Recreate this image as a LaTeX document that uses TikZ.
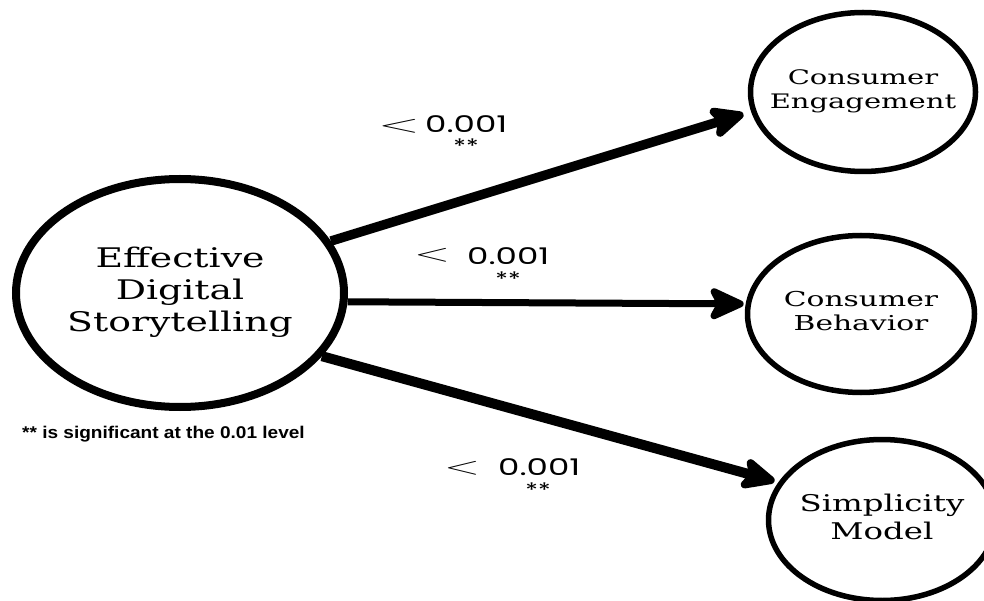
\documentclass[tikz,border=0pt]{standalone}
\usepackage{fontspec}
\usetikzlibrary{shapes.geometric,arrows.meta}
\newfontfamily\nodefont{DejaVu Serif}
\newfontfamily\labfont{Poppins}
\newfontfamily\notefont{Liberation Sans}
% horizontally widened text
\newcommand{\wide}[2]{\scalebox{#1}[1]{#2}}
% centred text that does not widen its ellipse, lifted by #1
\newcommand{\ctext}[2]{\makebox[0pt]{\raisebox{#1}{#2}}}
\begin{document}
\begin{tikzpicture}[x=1pt,y=-1pt,
  oval/.style={ellipse,draw,inner sep=0pt},
  conn/.style={-{Stealth[length=42pt,width=38pt,inset=10pt,round]}},
  pval/.style={anchor=base west,inner sep=0pt,font=\labfont\fontsize{23}{23}\selectfont},
  stars/.style={anchor=center,inner sep=0pt,font=\labfont\fontsize{20}{20}\selectfont},
  lt/.style={anchor=base west,inner sep=0pt,font=\fontsize{31}{31}\selectfont}]
\useasboundingbox (0,0) rectangle (984,601);
\fill[white] (0,0) rectangle (984,601);

% predictor and outcome ellipses
\node[oval,line width=8pt,minimum width=328pt,minimum height=228pt] (main) at (180,293)
  {\ctext{2pt}{\wide{1.4}{\nodefont\fontsize{27}{32}\selectfont
   \begin{tabular}{@{}c@{}}Effective\\Digital\\Storytelling\end{tabular}}}};
\node[oval,line width=5.5pt,minimum width=225pt,minimum height=159pt] (ce) at (863,92)
  {\ctext{6pt}{\wide{1.45}{\nodefont\fontsize{20}{24}\selectfont
   \begin{tabular}{@{}c@{}}Consumer\\Engagement\end{tabular}}}};
\node[oval,line width=5.5pt,minimum width=227pt,minimum height=157pt] (cb) at (861,314)
  {\ctext{4pt}{\wide{1.45}{\nodefont\fontsize{20.5}{24}\selectfont
   \begin{tabular}{@{}c@{}}Consumer\\Behavior\end{tabular}}}};
\node[oval,line width=5.5pt,minimum width=227pt,minimum height=161pt] (sm) at (882,520)
  {\ctext{0pt}{\wide{1.41}{\nodefont\fontsize{23}{28}\selectfont
   \begin{tabular}{@{}c@{}}Simplicity\\Model\end{tabular}}}};

% paths from the predictor
\draw[conn,line width=9.5pt,shorten >=8pt] (main.19) -- (ce.190);
\draw[conn,line width=7pt,shorten >=2pt] (main.-3) -- (cb.175);
\draw[conn,line width=10pt,shorten >=4pt] (main.-24) -- (sm.160);

% significance labels
\node[lt] (lt1) at (378,133) {\wide{2.2}{$<$}};
\node[pval] (p1) at (425,133) {\wide{1.48}{0.001}};
\node[stars] (s1) at (466,146) {\wide{1.3}{**}};
\node[lt] (lt2) at (414,262) {\wide{1.9}{$<$}};
\node[pval] (p2) at (467,265) {\wide{1.48}{0.001}};
\node[stars] (s2) at (508,279) {\wide{1.3}{**}};
\node[lt] (lt3) at (444,474) {\wide{1.9}{$<$}};
\node[pval] (p3) at (498,475) {\wide{1.48}{0.001}};
\node[stars] (s3) at (538,490) {\wide{1.3}{**}};

% footnote
\node[anchor=base west,inner sep=0pt] (note) at (22,438)
  {\wide{1.12}{\notefont\bfseries\fontsize{17}{17}\selectfont ** is significant at the 0.01 level}};
\end{tikzpicture}
\end{document}
